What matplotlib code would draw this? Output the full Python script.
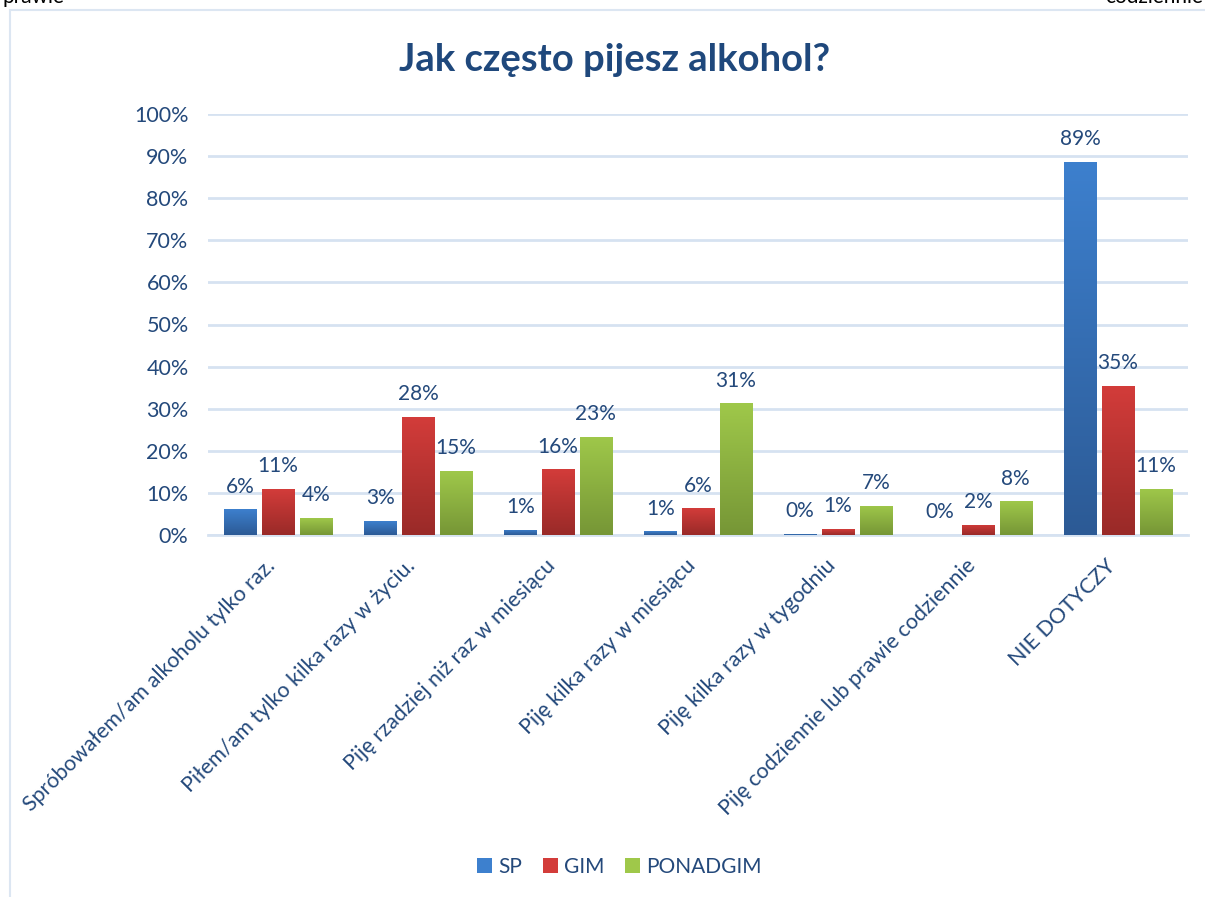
import numpy as np
import matplotlib
matplotlib.use('Agg')
import matplotlib.pyplot as plt
from matplotlib.patches import Patch, Rectangle
from matplotlib.colors import to_rgb

# dane (%)
categories = [
    'Spróbowałem/am alkoholu tylko raz.',
    'Piłem/am tylko kilka razy w życiu.',
    'Piję rzadziej niż raz w miesiącu',
    'Piję kilka razy w miesiącu',
    'Piję kilka razy w tygodniu',
    'Piję codziennie lub prawie codziennie',
    'NIE DOTYCZY',
]
series_names = ['SP', 'GIM', 'PONADGIM']
sp = [6.1, 3.3, 1.3, 0.9, 0.2, 0.1, 88.6]
gim = [10.9, 28.0, 15.6, 6.3, 1.4, 2.4, 35.4]
ponadgim = [4.0, 15.2, 23.3, 31.3, 7.0, 8.0, 11.0]

# kolory gradientu (góra, dół)
grad = {
    'SP': ('#3D80CE', '#2C5A95'),
    'GIM': ('#D33C3A', '#992A28'),
    'PONADGIM': ('#9FC84A', '#769636'),
}
TXT = '#24497B'
GRID = '#D6E2F1'

plt.rcParams['font.family'] = ['Lato', 'DejaVu Sans']

fig = plt.figure(figsize=(12.05, 8.97), dpi=100)
ax = fig.add_axes([208 / 1205, 1 - 535 / 897, 980 / 1205, 421 / 897])

# ramka wykresu
fig.patches.append(Rectangle((10 / 1205, -0.1), 1.2, 1 - 10 / 897 + 0.1,
                             transform=fig.transFigure, fill=False,
                             edgecolor='#DCE6F2', lw=1.5))
# przycięty tekst nad wykresem (jak na zrzucie)
fig.text(0.002, 1 - 3 / 897, 'prawie', fontsize=15, color='black', va='baseline')
fig.text(0.998, 1 - 3 / 897, 'codziennie', fontsize=15, color='black', va='baseline', ha='right')

x = np.arange(len(categories))
w = 0.23
step = 0.27
data = [sp, gim, ponadgim]

for k, (name, vals) in enumerate(zip(series_names, data)):
    top, bot = to_rgb(grad[name][0]), to_rgb(grad[name][1])
    bars = ax.bar(x + (k - 1) * step, np.array(vals) / 100, w,
                  color=grad[name][0], zorder=3)
    for b, v in zip(bars, vals):
        if b.get_height() > 0:
            t = np.linspace(0, 1, 256)[:, None, None]
            img = (1 - t) * np.array(top) + t * np.array(bot)
            im = ax.imshow(img, extent=(b.get_x(), b.get_x() + b.get_width(), 0, b.get_height()),
                           aspect='auto', zorder=4)
            im.set_clip_path(b)
        ax.annotate(f'{round(v)}%', (b.get_x() + b.get_width() / 2, b.get_height()),
                    xytext=(0, 12), textcoords='offset points', ha='center',
                    va='baseline', fontsize=15, color=TXT, zorder=5)

ax.set_xlim(-0.5, len(categories) - 0.5)
ax.set_ylim(0, 1)
ax.set_yticks(np.arange(0, 1.01, 0.1))
ax.set_yticklabels([f'{i}%' for i in range(0, 101, 10)])
ax.tick_params(axis='y', length=0, labelsize=15.5, labelcolor=TXT, pad=14)
ax.set_xticks([])
ax.grid(axis='y', color=GRID, lw=2, zorder=0)
for s in ['top', 'right', 'left']:
    ax.spines[s].set_visible(False)
ax.spines['bottom'].set_color(GRID)
ax.spines['bottom'].set_linewidth(2)

for i, c in enumerate(categories):
    ax.annotate(c, (i, 0), xytext=(-4, -20), textcoords='offset points',
                ha='right', va='center', rotation=45, rotation_mode='anchor',
                fontsize=15.5, color=TXT)

fig.text(0.51, 1 - 60 / 897, 'Jak często pijesz alkohol?', ha='center', va='center',
         fontsize=27.5, fontweight='bold', color='#1F487C')

handles = [Patch(facecolor=grad[n][0], label=n) for n in series_names]
leg = fig.legend(handles=handles, loc='center', bbox_to_anchor=(0.514, 1 - 867 / 897),
                 ncol=3, frameon=False, fontsize=15, handlelength=0.7, handleheight=0.7,
                 handletextpad=0.3, columnspacing=1.0)
for t in leg.get_texts():
    t.set_color(TXT)

fig.savefig('out.png', dpi=100)
